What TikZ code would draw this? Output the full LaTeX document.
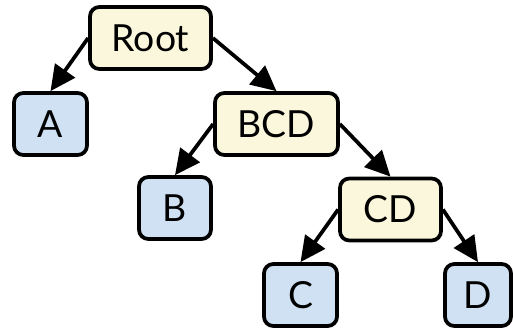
\documentclass[tikz,border=0pt]{standalone}
\usepackage{fontspec}
\setmainfont{Lato}
\usetikzlibrary{arrows.meta}
\definecolor{innerfill}{RGB}{251,247,220}
\definecolor{leaffill}{RGB}{207,225,242}
\begin{document}
\begin{tikzpicture}[x=0.75pt,y=-0.75pt,
  box/.style={draw=black,line width=2.8pt,rounded corners=7pt,font=\fontsize{28}{30}\selectfont,minimum height=46.5pt,inner sep=0pt},
  innerbox/.style={box,fill=innerfill},
  leafbox/.style={box,fill=leaffill},
  edge/.style={line width=2.8pt,-{Triangle[length=19pt,width=18pt]}}]
\useasboundingbox (0,0) rectangle (513,330);
\node[innerbox,minimum width=90.75pt] (root) at (150.5,38) {Root};
\node[leafbox,minimum width=54.75pt] (a) at (50.5,124) {A};
\node[innerbox,minimum width=92.25pt] (bcd) at (276.5,124) {BCD};
\node[leafbox,minimum width=54pt] (b) at (175,208) {B};
\node[innerbox,minimum width=75.75pt] (cd) at (390.5,209.5) {CD};
\node[leafbox,minimum width=54.75pt] (c) at (300.5,295) {C};
\node[leafbox,minimum width=49.5pt] (d) at (478,295) {D};
\draw[edge] (root.west) -- (a.north);
\draw[edge] (root.east) -- (bcd.north);
\draw[edge] (bcd.west) -- (b.north);
\draw[edge] (bcd.east) -- (cd.north);
\draw[edge] (cd.west) -- (c.north);
\draw[edge] (cd.east) -- (d.north);
\end{tikzpicture}
\end{document}
